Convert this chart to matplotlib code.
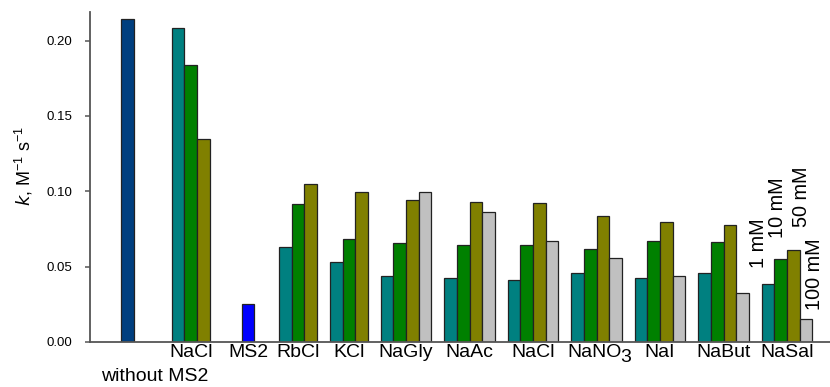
import matplotlib.pyplot as plt

plt.rcParams['font.family'] = ['Liberation Sans', 'DejaVu Sans']

# 速率常数 k (M^-1 s^-1)，各盐在 1/10/50/100 mM 下
groups = ["without MS2", "NaCl", "MS2", "RbCl", "KCl", "NaGly", "NaAc",
          "NaCl", "NaNO3", "NaI", "NaBut", "NaSal"]
k_without = [0.2146]
k_nacl_free = [0.2084, 0.1841, 0.1347]
k_ms2 = [0.0250]
k_rbcl = [0.0628, 0.0918, 0.1049]
k_kcl = [0.0531, 0.0686, 0.0996]
k_nagly = [0.0436, 0.0659, 0.0943, 0.0998]
k_naac = [0.0427, 0.0641, 0.0929, 0.0860]
k_nacl = [0.0414, 0.0646, 0.0923, 0.0668]
k_nano3 = [0.0460, 0.0617, 0.0838, 0.0558]
k_nai = [0.0427, 0.0672, 0.0799, 0.0440]
k_nabut = [0.0458, 0.0664, 0.0774, 0.0325]
k_nasal = [0.0387, 0.0553, 0.0613, 0.0155]
conc = ["1 mM", "10 mM", "50 mM", "100 mM"]

data = [k_without, k_nacl_free, k_ms2, k_rbcl, k_kcl, k_nagly, k_naac,
        k_nacl, k_nano3, k_nai, k_nabut, k_nasal]
gaps = [0, 3, 2.5, 1.95, 1, 1, 1, 1, 1, 1, 1, 1]   # 组间空隙(以柱宽为单位)
conc_colors = ["#008080", "#008000", "#808000", "#C0C0C0"]

fig = plt.figure(figsize=(8.3, 3.87), dpi=100)
ax = fig.add_axes([90/830, 45/387, 740/830, 330/387])

pos = 0
centers = []
last_x = []
for i, vals in enumerate(data):
    pos += gaps[i]
    xs = [pos + j + 0.5 for j in range(len(vals))]
    if i == 0:
        cols = ["#003F7F"]
    elif i == 2:
        cols = ["#0000FF"]
    else:
        cols = conc_colors[:len(vals)]
    ax.bar(xs, vals, width=1.0, color=cols, edgecolor="#222222", linewidth=0.9)
    centers.append(sum(xs) / len(xs))
    last_x = xs
    pos += len(vals)

# 最后一组上方标注浓度
offs = [(-6.5, 11.5), (-2, 15), (6, 16), (6, 6.5)]
for j, lab in enumerate(conc):
    ax.annotate(lab, xy=(last_x[j], k_nasal[j]), xytext=offs[j], textcoords="offset points",
                rotation=90, ha="center", va="bottom", fontsize=14.3)

# 横轴分组标签(NaNO3 的下标单独画)
fs = 14
tick_lab = [g if g != "NaNO3" else "" for g in groups[1:]]
ax.set_xticks(centers[1:])
ax.set_xticklabels(tick_lab, fontsize=fs)
i3 = groups.index("NaNO3")
ax.annotate("NaNO", xy=(centers[i3], 0), xytext=(18, -1.1), textcoords="offset points",
            ha="right", va="top", fontsize=fs, annotation_clip=False)
ax.annotate("3", xy=(centers[i3], 0), xytext=(17.3, -4.8), textcoords="offset points",
            ha="left", va="top", fontsize=fs, annotation_clip=False)
ax.annotate(groups[0], xy=(centers[0] + 2.18, 0), xytext=(0, -18.5),
            textcoords="offset points", ha="center", va="top", fontsize=fs,
            annotation_clip=False)
ax.tick_params(axis="x", length=0, pad=1.1)
ax.tick_params(axis="y", length=3.5, width=1.1, color="#555555", pad=9, labelsize=9.5)

ax.set_xlim(-2.44, 55.83)
ax.set_ylim(0, 0.219)
ax.set_yticks([0, 0.05, 0.10, 0.15, 0.20])
ax.set_yticklabels(["0.00", "0.05", "0.10", "0.15", "0.20"])
ax.set_ylabel("$k$, M$^{\\mathregular{-1}}$ s$^{\\mathregular{-1}}$", fontsize=13)
ax.yaxis.set_label_coords(-0.074, 0.533)

for s in ["top", "right"]:
    ax.spines[s].set_visible(False)
for s in ["left", "bottom"]:
    ax.spines[s].set_color("#555555")
    ax.spines[s].set_linewidth(1.3)

plt.savefig("out.png", dpi=100)
